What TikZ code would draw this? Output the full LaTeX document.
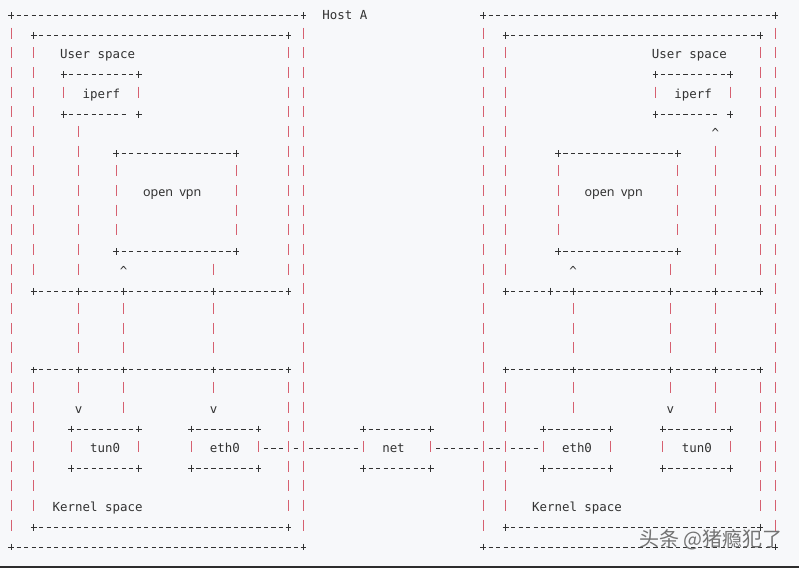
\documentclass[tikz,border=0pt]{standalone}
\usepackage{fontspec}
\usepackage{xcolor}
\newfontfamily\asciifont{DejaVu Sans Mono}
\newfontfamily\vpnfont{Noto Sans}
\newfontfamily\cjkfont{Noto Sans CJK SC}
\definecolor{ink}{RGB}{50,50,50}
\definecolor{pipered}{RGB}{214,96,112}
\definecolor{pagebg}{RGB}{247,248,250}
\definecolor{rim}{RGB}{45,45,45}
\tikzset{
  pipe/.style={draw=pipered, line width=1pt},
  plusmark/.style={draw=ink, line width=0.9pt},
  dashrule/.style={draw=ink, line width=0.9pt, dash pattern=on 4.2pt off 3.29pt},
  lab/.style={font=\asciifont\fontsize{12.44pt}{14pt}\selectfont, text=ink, inner sep=0pt, anchor=base west},
  tip/.style={lab, anchor=base},
  vpn/.style={font=\vpnfont\fontsize{12.5pt}{15pt}\selectfont, text=ink, inner sep=0pt, anchor=base},
  wmark/.style={font=\cjkfont\fontsize{20pt}{24pt}\selectfont, text=black!55, inner sep=0pt}
}
% character grid: column -> x, row -> y (y grows downwards)
\newcommand{\colx}[1]{11.3+7.49*(#1)}
\newcommand{\rowy}[1]{15.7+19.68*(#1)}
\newcommand{\vpipe}[2]{\draw[pipe] ({\colx{#1}},{\rowy{#2}-7.8}) -- ({\colx{#1}},{\rowy{#2}+3.2});}
\newcommand{\crossat}[2]{\draw[plusmark] ({\colx{#1}-2.9},{\rowy{#2}}) -- ++(5.8,0) ({\colx{#1}},{\rowy{#2}-3.4}) -- ++(0,6.8);}
\newcommand{\dashrun}[3]{\draw[dashrule] ({\colx{#2}-2.1},{\rowy{#1}}) -- ({\colx{#3}+2.1},{\rowy{#1}});}
\newcommand{\boxedge}[3]{\crossat{#2}{#1}\crossat{#3}{#1}\dashrun{#1}{#2+1}{#3-1}}
\newcommand{\piperun}[3]{\foreach \rw in {#2,...,#3}{\vpipe{#1}{\rw}}}

\begin{document}
\begin{tikzpicture}[x=1pt,y=-1pt]
\useasboundingbox (0,0) rectangle (799,568);
\fill[pagebg] (0,0) rectangle (799,568);
\fill[rim] (0,565.5) rectangle (799,568);

% Host boxes
\boxedge{0}{0}{39}
\boxedge{27}{0}{39}
\boxedge{0}{63}{102}
\boxedge{27}{63}{102}
\foreach \c in {0,39,63,102}{\piperun{\c}{1}{26}}
\node[lab] (hosta) at ({\colx{42}-3.745},{\rowy{0}+3.8}) {Host A};

% User space / kernel space boxes
\boxedge{1}{3}{37}
\boxedge{1}{66}{100}
\boxedge{26}{3}{37}
\boxedge{26}{66}{100}
\foreach \c in {3,37,66,100}{
  \piperun{\c}{2}{13}
  \piperun{\c}{19}{25}
}
\foreach \a/\b in {3/9,9/15,15/27,27/37}{
  \boxedge{14}{\a}{\b}
  \boxedge{18}{\a}{\b}
}
\foreach \a/\b in {66/72,72/75,75/88,88/94,94/100}{\boxedge{14}{\a}{\b}}
\foreach \a/\b in {66/75,75/88,88/94,94/100}{\boxedge{18}{\a}{\b}}
\node[lab] (usera) at ({\colx{7}-3.745},{\rowy{2}+3.8}) {User space};
\node[lab] (userb) at ({\colx{86}-3.745},{\rowy{2}+3.8}) {User space};
\node[lab] (kernela) at ({\colx{6}-3.745},{\rowy{25}+3.8}) {Kernel space};
\node[lab] (kernelb) at ({\colx{70}-3.745},{\rowy{25}+3.8}) {Kernel space};

% iperf
\boxedge{3}{7}{17}
\boxedge{3}{86}{96}
\crossat{7}{5}\dashrun{5}{8}{15}\crossat{17}{5}
\crossat{86}{5}\dashrun{5}{87}{94}\crossat{96}{5}
\foreach \c in {7,17,86,96}{\vpipe{\c}{4}}
\node[lab] (iperfa) at ({\colx{10}-3.745},{\rowy{4}+3.8}) {iperf};
\node[lab] (iperfb) at ({\colx{89}-3.745},{\rowy{4}+3.8}) {iperf};

% open vpn
\boxedge{7}{14}{30}
\boxedge{12}{14}{30}
\boxedge{7}{73}{89}
\boxedge{12}{73}{89}
\foreach \c in {14,30,73,89}{\piperun{\c}{8}{11}}
\node[vpn] (vpna) at (172.2,{\rowy{9}+3.3}) {open~~vpn};
\node[vpn] (vpnb) at (613.7,{\rowy{9}+3.3}) {open~~vpn};

% paths, host A
\piperun{9}{6}{13}
\vpipe{27}{13}
\node[tip] (upa) at ({\colx{15}},{\rowy{13}+3.8}) {\^{}};
\foreach \c in {9,15,27}{
  \piperun{\c}{15}{17}
  \vpipe{\c}{19}
}
\vpipe{15}{20}
\node[tip] (downa1) at ({\colx{9}},{\rowy{20}+3.8}) {v};
\node[tip] (downa2) at ({\colx{27}},{\rowy{20}+3.8}) {v};

% paths, host B
\node[tip] (upb1) at ({\colx{94}},{\rowy{6}+3.8}) {\^{}};
\piperun{94}{7}{13}
\piperun{94}{15}{17}
\piperun{94}{19}{20}
\vpipe{88}{13}
\node[tip] (upb2) at ({\colx{75}},{\rowy{13}+3.8}) {\^{}};
\foreach \c in {75,88}{
  \piperun{\c}{15}{17}
  \vpipe{\c}{19}
}
\vpipe{75}{20}
\node[tip] (downb) at ({\colx{88}},{\rowy{20}+3.8}) {v};

% devices and the wire
\foreach \a/\b in {8/17,24/33,47/56,71/80,87/96}{
  \boxedge{21}{\a}{\b}
  \boxedge{23}{\a}{\b}
  \vpipe{\a}{22}
  \vpipe{\b}{22}
}
\node[lab] (tuna) at ({\colx{11}-3.745},{\rowy{22}+3.8}) {tun0};
\node[lab] (etha) at ({\colx{27}-3.745},{\rowy{22}+3.8}) {eth0};
\node[lab] (net) at ({\colx{50}-3.745},{\rowy{22}+3.8}) {net};
\node[lab] (ethb) at ({\colx{74}-3.745},{\rowy{22}+3.8}) {eth0};
\node[lab] (tunb) at ({\colx{90}-3.745},{\rowy{22}+3.8}) {tun0};
\dashrun{22}{34}{36}
\dashrun{22}{38}{38}
\dashrun{22}{40}{46}
\dashrun{22}{57}{62}
\dashrun{22}{64}{65}
\dashrun{22}{67}{70}

% watermark
\node[wmark] (wm) at (711,540) {头条 @猪瘾犯了};
\end{tikzpicture}
\end{document}
